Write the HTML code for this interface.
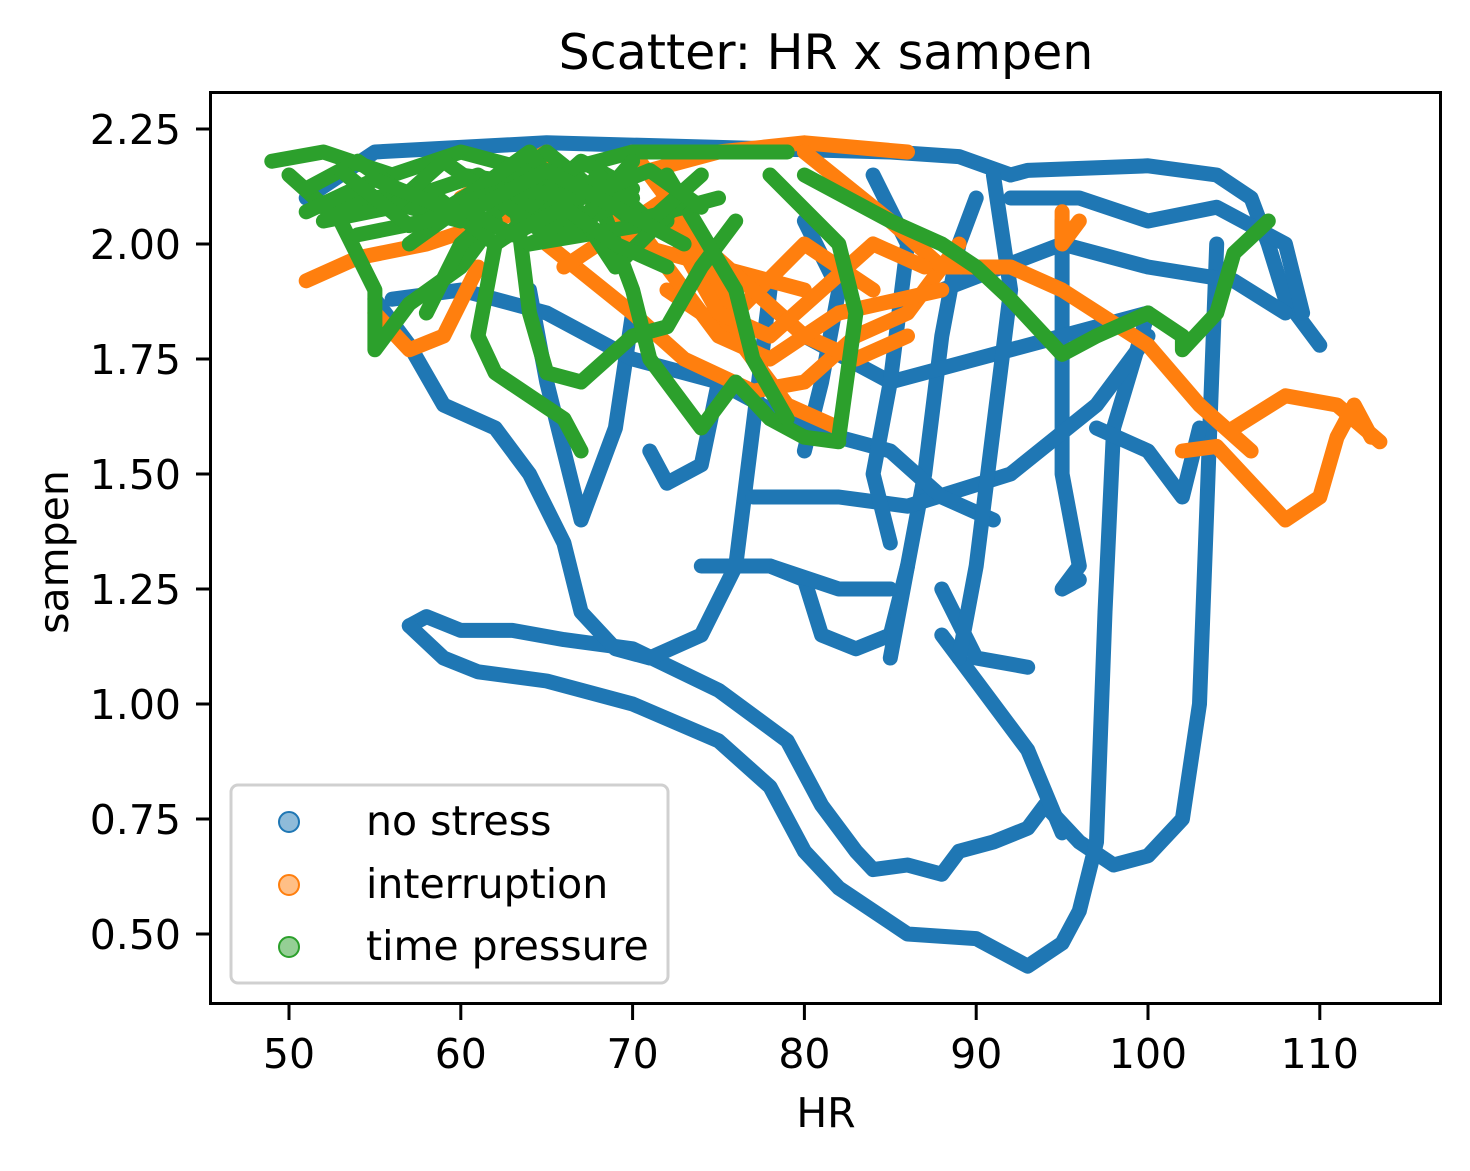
<!DOCTYPE html>
<html><head><meta charset="utf-8"><style>
body{margin:0;background:#fff;}
svg text{font-family:"DejaVu Sans","Liberation Sans",sans-serif;fill:#000;}
</style></head><body>
<svg id="chart" width="1470" height="1166" xmlns="http://www.w3.org/2000/svg">
<rect width="1470" height="1166" fill="#fff"/>
<text x="826" y="69" style="font-size:49px" text-anchor="middle">Scatter: HR x sampen</text>
<g id="marks"></g>
<g id="axes"></g>
<rect x="210.5" y="92.5" width="1230" height="911" fill="none" stroke="#000" stroke-width="3"/>
<text x="826" y="1127" style="font-size:41px" text-anchor="middle">HR</text>
<text x="68" y="552" style="font-size:41px" text-anchor="middle" transform="rotate(-90 68 552)">sampen</text>
<g>
<rect x="231" y="785" width="437" height="198" rx="7" fill="#fff" fill-opacity="0.8" stroke="#d0d0d0" stroke-width="3"/>
<circle cx="289" cy="822" r="10" fill="#1f77b4" fill-opacity="0.5" stroke="#1f77b4" stroke-width="2"/>
<text x="366" y="835" style="font-size:41px">no stress</text>
<circle cx="289" cy="885" r="10" fill="#ff7f0e" fill-opacity="0.5" stroke="#ff7f0e" stroke-width="2"/>
<text x="366" y="898" style="font-size:41px">interruption</text>
<circle cx="289" cy="947" r="10" fill="#2ca02c" fill-opacity="0.5" stroke="#2ca02c" stroke-width="2"/>
<text x="366" y="960" style="font-size:41px">time pressure</text>
</g>
</svg>
<script>
const xTicks=[50,60,70,80,90,100,110];
const yTicks=[0.50,0.75,1.00,1.25,1.50,1.75,2.00,2.25];
const noStress=[
[[57,1.17],[58,1.19],[60,1.16],[63,1.16],[66,1.14],[70,1.12],[75,1.03],[79,0.92],[81,0.78],[83,0.68],[84,0.64],[86,0.65],[88,0.63],[89,0.68],[91,0.7],[93,0.73],[94,0.78],[96,0.7],[98,0.65],[100,0.67],[102,0.75],[103,1.0],[103.5,1.5],[104,2.0]],
[[57,1.17],[59,1.1],[61,1.07],[65,1.05],[70,1.0],[75,0.92],[78,0.82],[80,0.68],[82,0.6],[86,0.5],[90,0.49],[93,0.43],[95,0.48],[96,0.55],[97,0.7],[97.5,1.2],[98,1.6],[100,1.85]],
[[55,1.88],[57,1.78],[59,1.65],[62,1.6],[64,1.5],[66,1.35],[67,1.2],[69,1.12],[71,1.1],[74,1.15],[76,1.3],[77,1.6],[78,1.9]],
[[64,1.9],[65,1.7],[66,1.55],[67,1.4],[69,1.6],[70,1.85]],
[[71,1.55],[72,1.48],[74,1.52],[75,1.7]],
[[78,1.3],[80,1.27],[81,1.15],[83,1.12],[85,1.15],[86,1.3]],
[[85,1.1],[86,1.3],[87,1.5],[88,1.8],[89,2.0],[90,2.1]],
[[88,1.25],[90,1.1],[93,1.08]],
[[88,1.15],[90,1.05],[93,0.9],[95,0.72]],
[[51,2.1],[55,2.2],[65,2.22],[75,2.21],[85,2.2],[89,2.19],[92,2.15],[93,2.16],[100,2.17],[104,2.15],[106,2.1],[107,2.0],[108,1.88],[110,1.78]],
[[88,1.9],[95,2.0],[100,1.95],[105,1.92],[108,1.85]],
[[97,1.6],[100,1.55],[102,1.45],[103,1.6]],
[[95,2.05],[95,1.5],[96,1.3],[95,1.25],[96,1.27]],
[[77,1.45],[82,1.45],[86,1.43],[92,1.5],[97,1.65],[100,1.8]],
[[80,1.8],[85,1.7],[90,1.75],[95,1.8],[100,1.85]],
[[74,1.3],[78,1.3],[82,1.25],[85,1.25]],
[[56,1.88],[60,1.9],[65,1.85],[70,1.75],[75,1.7],[80,1.6],[85,1.55],[88,1.45],[91,1.4]],
[[91,2.15],[92,1.9],[91,1.6],[90,1.3],[89,1.1]],
[[84,2.15],[86,2.0],[85,1.7],[84,1.5],[85,1.35]],
[[92,2.1],[96,2.1],[100,2.05],[104,2.08],[108,2.0],[109,1.85]],
[[80,2.05],[82,1.9],[81,1.7],[80,1.55]]
];
const interruption=[
[[51,1.92],[54,1.97],[58,2.0],[62,2.05],[65,2.1],[70,2.15],[75,2.2],[80,2.22],[86,2.2]],
[[55,1.85],[57,1.77],[59,1.8],[61,1.95]],
[[65,2.0],[70,1.85],[73,1.75],[77,1.68],[80,1.7],[83,1.8],[86,1.85],[89,2.0]],
[[80,2.2],[85,2.05],[88,1.95],[92,1.95],[95,1.9],[100,1.78],[103,1.65],[106,1.55]],
[[102,1.55],[104,1.56],[106,1.48],[108,1.4],[110,1.45],[111,1.58],[112,1.65],[113,1.58]],
[[105,1.6],[108,1.67],[111,1.65],[113.5,1.57]],
[[72,1.9],[76,1.8],[79,1.65],[82,1.6]],
[[95,2.07],[95,2.0],[96,2.05]],
[[60,2.1],[65,2.2],[70,2.0],[75,1.95],[80,1.9]],
[[66,1.95],[72,2.1],[76,1.85],[80,2.0],[84,1.9]],
[[70,2.2],[74,2.0],[77,1.9],[80,1.8],[83,1.75],[86,1.8]],
[[68,2.15],[72,1.95],[75,1.8],[78,1.75],[82,1.85],[88,1.9]],
[[72,2.05],[75,1.85],[78,1.8],[81,1.9],[84,2.0],[87,1.95]]
];
const timePressure=[
[[49,2.18],[52,2.2],[56,2.15],[60,2.2],[65,2.15],[70,2.2],[75,2.2],[79,2.2]],
[[50,2.15],[53,2.05],[55,1.9],[55,1.77],[57,1.87],[60,1.95],[62,2.05]],
[[58,1.85],[60,2.0],[63,2.1]],
[[66,2.1],[62,2.0],[61,1.8],[62,1.72],[64,1.67],[66,1.62],[67,1.55]],
[[63,2.15],[64,1.85],[65,1.72],[67,1.7],[70,1.8],[72,1.82],[74,1.95],[76,2.05]],
[[68,2.1],[70,1.9],[71,1.75],[74,1.6],[76,1.7],[78,1.62],[80,1.58],[82,1.57]],
[[72,2.15],[76,1.9],[77,1.75],[79,1.62]],
[[78,2.15],[82,2.0],[83,1.85],[82,1.58]],
[[80,2.15],[85,2.05],[88,2.0],[90,1.95],[92,1.88],[95,1.76],[97,1.8],[100,1.85],[102,1.8],[102,1.77],[104,1.85],[105,1.98],[107,2.05]],
[[55,2.1],[60,2.05],[65,2.2],[70,2.05],[75,2.1]],
[[60,2.15],[70,2.1],[64,2.0],[72,2.05]],
[[52,2.08],[58,2.12],[62,2.0],[66,2.12],[69,1.95],[73,2.1]],
[[51,2.12],[54,2.18],[57,2.1],[61,2.15],[64,2.08],[67,2.18],[70,2.12]],
[[52,2.05],[56,2.08],[59,2.18],[62,2.1],[65,2.02],[68,2.15],[71,2.05],[74,2.15]],
[[54,2.02],[58,2.05],[61,2.12],[64,2.2],[67,2.05],[70,2.18]],
[[57,2.0],[60,2.08],[63,2.02],[66,2.08],[69,2.0],[72,1.95]],
[[51,2.07],[55,2.14],[59,2.08],[63,2.12],[67,2.1],[71,2.16],[74,2.08]],
[[53,2.16],[57,2.04],[61,2.08],[65,2.16],[69,2.08],[73,2.0]]
];
const NS='http://www.w3.org/2000/svg';
function xs(v){return 289+(v-50)*17.18;}
function ys(v){return 934-(v-0.5)*460;}
const marks=document.getElementById('marks');
function drawSeries(arr,color,name){
  const g=document.createElementNS(NS,'g');
  
  
  arr.forEach(tr=>{
    const p=document.createElementNS(NS,'polyline');
    
    
    p.setAttribute('points',tr.map(d=>xs(d[0]).toFixed(1)+','+ys(d[1]).toFixed(1)).join(' '));
    p.setAttribute('fill','none');
    p.setAttribute('stroke',color);
    p.setAttribute('stroke-width','15');
    p.setAttribute('stroke-linejoin','round');
    p.setAttribute('stroke-linecap','round');
    g.appendChild(p);
  });
  marks.appendChild(g);
}
drawSeries(noStress,'#1f77b4','no-stress-series');
drawSeries(interruption,'#ff7f0e','interruption-series');
drawSeries(timePressure,'#2ca02c','time-pressure-series');
const axes=document.getElementById('axes');
xTicks.forEach(t=>{
  const x=xs(t);
  const l=document.createElementNS(NS,'line');
  
  
  l.setAttribute('x1',x);l.setAttribute('x2',x);l.setAttribute('y1',1004);l.setAttribute('y2',1020);
  l.setAttribute('stroke','#000');l.setAttribute('stroke-width','3');
  axes.appendChild(l);
  const tx=document.createElementNS(NS,'text');
  
  
  tx.setAttribute('x',x);tx.setAttribute('y',1068);tx.setAttribute('style','font-size:41px');tx.setAttribute('text-anchor','middle');
  tx.textContent=t;
  axes.appendChild(tx);
});
yTicks.forEach(t=>{
  const y=ys(t);
  const l=document.createElementNS(NS,'line');
  
  
  l.setAttribute('x1',196);l.setAttribute('x2',210);l.setAttribute('y1',y);l.setAttribute('y2',y);
  l.setAttribute('stroke','#000');l.setAttribute('stroke-width','3');
  axes.appendChild(l);
  const tx=document.createElementNS(NS,'text');
  
  
  tx.setAttribute('x',181);tx.setAttribute('y',y+15);tx.setAttribute('style','font-size:41px');tx.setAttribute('text-anchor','end');
  tx.textContent=t.toFixed(2);
  axes.appendChild(tx);
});
</script>
</body></html>
